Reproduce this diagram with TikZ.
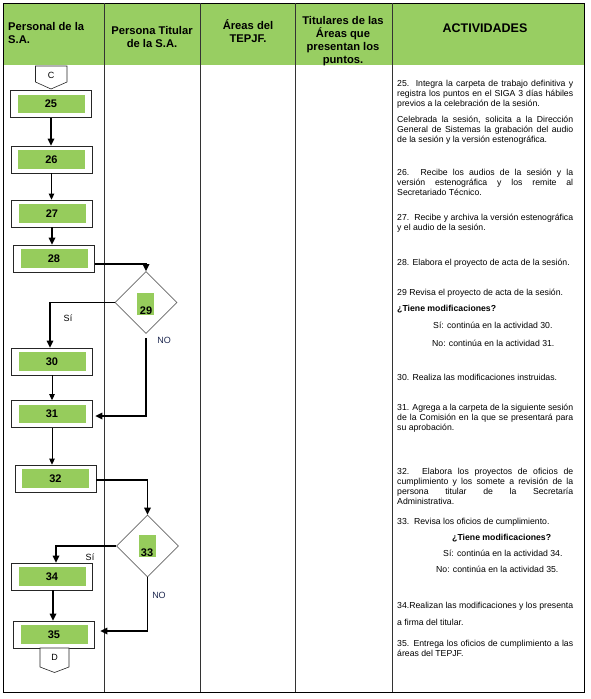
\documentclass[tikz,border=0pt]{standalone}
\usepackage{fontspec}
\setmainfont{Liberation Sans}
\usetikzlibrary{shapes.geometric,arrows.meta}
\definecolor{hdrgreen}{RGB}{152,206,98}
\definecolor{boxgreen}{RGB}{150,204,92}
\definecolor{nocol}{RGB}{30,40,80}
\newcommand\actbox[3]{%
  \node[outerbox] (#1) at (#2) {};
  \node[greenbox] (#1g) at (#1.center) {#3};}
\begin{document}
\hyphenpenalty=10000
\exhyphenpenalty=10000
\begin{tikzpicture}[x=1pt,y=-1pt,
  outerbox/.style={draw=black!85,line width=0.7pt,fill=white,minimum width=81pt,minimum height=27pt,inner sep=0pt},
  greenbox/.style={fill=boxgreen,minimum width=67pt,minimum height=18.5pt,inner sep=0pt,font=\bfseries\fontsize{11}{12}\selectfont},
  decision/.style={diamond,draw=black!60,line width=0.6pt,fill=white,minimum width=62pt,minimum height=62pt,inner sep=0pt},
  dgreen/.style={fill=boxgreen,minimum width=17pt,minimum height=22pt,inner sep=0pt},
  dnum/.style={anchor=base,inner sep=0pt,font=\bfseries\fontsize{11}{12}\selectfont},
  thickarrow/.style={line width=1.6pt,-{Triangle[length=7pt,width=6.5pt]}},
  thinarrow/.style={line width=1pt,-{Triangle[length=6pt,width=5.5pt]}},
  hdr/.style={font=\bfseries\fontsize{11.2}{13}\selectfont,inner sep=0pt,anchor=base},
  para/.style={anchor=base west,inner sep=0pt,text width=176pt,align=justify,font=\fontsize{8.7}{10.3}\selectfont},
  oneline/.style={anchor=base west,inner sep=0pt,font=\fontsize{8.7}{10.3}\selectfont},
  boldline/.style={anchor=base west,inner sep=0pt,font=\bfseries\fontsize{8.7}{10.3}\selectfont},
  branch/.style={font=\fontsize{9}{10}\selectfont,inner sep=0pt},
  conn/.style={draw=black!85,line width=0.6pt,fill=white},
  colline/.style={draw=black!80,line width=0.7pt}
]
\useasboundingbox (0,0) rectangle (590,699);
% header
\fill[hdrgreen] (3,3) rectangle (584,65);
\draw[black,line width=0.8pt] (3,692) -- (3,3) -- (584,3) -- (584,692) -- cycle;
\foreach \xx in {104,200,295,392} \draw[colline] (\xx,3) -- (\xx,692);
\node[hdr,anchor=base west,align=left] (h1) at (8,43) {Personal de la\\S.A.};
\node[hdr,align=center] (h2) at (152,47.5) {Persona Titular\\de la S.A.};
\node[hdr,align=center] (h3) at (248,42) {Áreas del\\TEPJF.};
\node[hdr,align=center] (h4) at (343,63) {Titulares de las\\Áreas que\\presentan los\\puntos.};
\node[hdr,font=\bfseries\fontsize{12.5}{14}\selectfont] (h5) at (485,32) {ACTIVIDADES};

% off-page connector C
\draw[conn] (35.5,66) -- (67,66) -- (67,82) -- (51,89) -- (35.5,82) -- cycle;
\node[font=\fontsize{9}{10}\selectfont,inner sep=0pt] (C) at (51,75) {C};

% activity boxes
\actbox{b25}{51,104}{25}
\actbox{b26}{51.5,159.5}{26}
\actbox{b27}{52,213.5}{27}
\actbox{b28}{54,258.5}{28}
\actbox{b30}{52,361.5}{30}
\actbox{b31}{52,414}{31}
\actbox{b32}{55.5,478.5}{32}
\actbox{b34}{52,576.5}{34}
\actbox{b35}{54,634.5}{35}

% off-page connector D
\draw[conn] (40,648) -- (69,648) -- (69,667) -- (54.5,672.5) -- (40,667) -- cycle;
\node[font=\fontsize{9}{10}\selectfont,inner sep=0pt] (D) at (54.5,657) {D};

% decisions
\node[decision] (d29) at (146,302.5) {};
\node[dgreen] (d29g) at (145.5,304) {};
\node[dnum] (d29n) at (146,314) {29};
\node[decision] (d33) at (147.5,546) {};
\node[dgreen] (d33g) at (147,545.5) {};
\node[dnum] (d33n) at (147,556) {33};

% connectors
\draw[thickarrow] (b25.south) -- (b25.south |- b26.north);
\draw[thinarrow] (b26.south) -- (b26.south |- b27.north);
\draw[thickarrow] (b27.south) -- (b27.south |- b28.north);
\draw[thickarrow] ([yshift=-5.5pt]b28.east) -| (d29.north);
\draw[thickarrow] (d29.west) -| ([xshift=-2pt]b30.north);
\draw[thickarrow] ([yshift=-4pt]d29.south) |- ([xshift=2.5pt,yshift=-2pt]b31.east);
\draw[thinarrow] (b30.south) -- (b30.south |- b31.north);
\draw[thinarrow] (b31.south) -- (b31.south |- b32.north);
\draw[thickarrow] ([yshift=-1.5pt]b32.east) -| (d33.north);
\draw[thickarrow] (d33.west) -| ([xshift=4pt]b34.north);
\draw[thickarrow] (d33.south) |- ([xshift=5.5pt,yshift=3.5pt]b35.east);
\draw[thickarrow] ([xshift=1pt]b34.south) -- ([xshift=1pt]b34.south |- b35.north);

% branch labels
\node[branch] (si1) at (68,318) {Sí};
\node[branch,text=nocol] (no1) at (164,340) {NO};
\node[branch] (si2) at (90,557) {Sí};
\node[branch,text=nocol] (no2) at (159,595) {NO};

% activities text
\node[para] (t25) at (397,86) {25.\ \ Integra la carpeta de trabajo definitiva y\linebreak registra los puntos en el SIGA 3 días hábiles\linebreak previos a la celebración de la sesión.};
\node[para] (t25b) at (397,122) {Celebrada la sesión, solicita a la Dirección\linebreak General de Sistemas la grabación del audio\linebreak de la sesión y la versión estenográfica.};
\node[para] (t26) at (397,175) {26. Recibe los audios de la sesión y la\linebreak versión estenográfica y los remite al\linebreak Secretariado Técnico.};
\node[para] (t27) at (397,220) {27.\ \ Recibe y archiva la versión estenográfica\linebreak y el audio de la sesión.};
\node[oneline] (t28) at (397,265) {28. Elabora el proyecto de acta de la sesión.};
\node[oneline] (t29) at (397,295) {29 Revisa el proyecto de acta de la sesión.};
\node[boldline] (t29q) at (397,311) {¿Tiene modificaciones?};
\node[oneline] (t29s) at (433,328) {Sí: continúa en la actividad 30.};
\node[oneline] (t29n) at (432,346) {No: continúa en la actividad 31.};
\node[oneline] (t30) at (397,380) {30. Realiza las modificaciones instruidas.};
\node[para] (t31) at (397,410) {31. Agrega a la carpeta de la siguiente sesión\linebreak de la Comisión en la que se presentará para\linebreak su aprobación.};
\node[para] (t32) at (397,474) {32. Elabora los proyectos de oficios de\linebreak cumplimiento y los somete a revisión de la\linebreak persona titular de la Secretaría\linebreak Administrativa.};
\node[oneline] (t33) at (397,524) {33.\ \ Revisa los oficios de cumplimiento.};
\node[boldline] (t33q) at (452,540) {¿Tiene modificaciones?};
\node[oneline] (t33s) at (443,556) {Sí: continúa en la actividad 34.};
\node[oneline] (t33n) at (436,572) {No: continúa en la actividad 35.};
\node[oneline] (t34) at (397,608) {34.Realizan las modificaciones y los presenta};
\node[oneline] (t34b) at (397,625) {a firma del titular.};
\node[para] (t35) at (397,646) {35. Entrega los oficios de cumplimiento a las\linebreak áreas del TEPJF.};
\end{tikzpicture}
\end{document}
